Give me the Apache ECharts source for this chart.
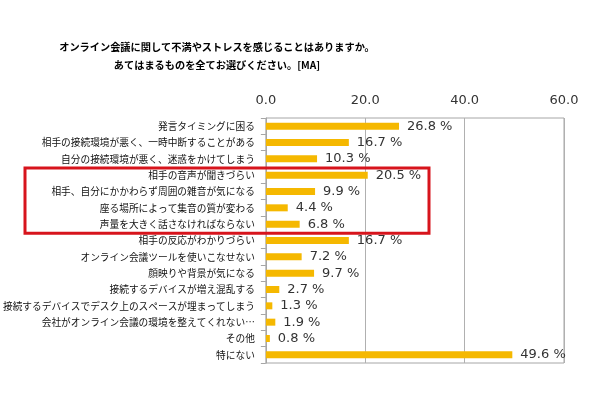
<!DOCTYPE html>
<html>
<head>
<meta charset="utf-8">
<script src="https://cdn.jsdelivr.net/npm/echarts@6/dist/echarts.min.js"></script>
<style>
html,body{margin:0;padding:0;background:#fff;}
#c{width:600px;height:400px;}
</style>
</head>
<body>
<div id="c"></div>
<script>
const titleLines = ['オンライン会議に関して不満やストレスを感じることはありますか。', 'あてはまるものを全てお選びください。[MA]'];
const categories = [
  '発言タイミングに困る',
  '相手の接続環境が悪く、一時中断することがある',
  '自分の接続環境が悪く、迷惑をかけてしまう',
  '相手の音声が聞きづらい',
  '相手、自分にかかわらず周囲の雑音が気になる',
  '座る場所によって集音の質が変わる',
  '声量を大きく話さなければならない',
  '相手の反応がわかりづらい',
  'オンライン会議ツールを使いこなせない',
  '顔映りや背景が気になる',
  '接続するデバイスが増え混乱する',
  '接続するデバイスでデスク上のスペースが埋まってしまう',
  '会社がオンライン会議の環境を整えてくれない…',
  'その他',
  '特にない'
];
const values = [26.8, 16.7, 10.3, 20.5, 9.9, 4.4, 6.8, 16.7, 7.2, 9.7, 2.7, 1.3, 1.9, 0.8, 49.6];
const xTicks = [0, 20, 40, 60];
const highlightFrom = 3, highlightTo = 6;

const chart = echarts.init(document.getElementById('c'), null, {renderer: 'canvas'});
const option = {
  animation: false,
  backgroundColor: '#ffffff',
  title: {
    text: titleLines.join('\n'),
    left: 212,
    top: 33,
    textAlign: 'center',
    textStyle: {fontFamily: 'Noto Sans CJK JP', fontSize: 10.2, fontWeight: 'bold', color: '#000', lineHeight: 18}
  },
  grid: {left: 264, right: 36, top: 118, bottom: 37, show: true, borderColor: '#a6a6a6', borderWidth: 1},
  xAxis: {
    type: 'value', position: 'top', min: xTicks[0], max: xTicks[xTicks.length - 1], interval: 20,
    axisLine: {show: false}, axisTick: {show: false},
    splitLine: {show: true, lineStyle: {color: '#b0b0b0', width: 1}},
    axisLabel: {margin: 11, fontFamily: 'DejaVu Sans', fontSize: 13, color: '#333', formatter: v => v.toFixed(1)}
  },
  yAxis: {
    type: 'category', inverse: true, data: categories,
    axisLine: {show: true, lineStyle: {color: '#a6a6a6'}},
    axisTick: {show: true, length: 5, lineStyle: {color: '#a6a6a6'}},
    axisLabel: {margin: 11, fontFamily: 'Noto Sans CJK JP', fontSize: 9.7, color: '#111'}
  },
  series: [{
    type: 'bar', data: values, barWidth: 7,
    itemStyle: {color: '#F5B800'},
    label: {show: true, position: 'right', distance: 8, fontFamily: 'DejaVu Sans', fontSize: 13, color: '#333',
      formatter: p => p.value.toFixed(1) + ' %'}
  }]
};
chart.setOption(option);

const yFirst = chart.convertToPixel({yAxisIndex: 0}, highlightFrom);
const yLast = chart.convertToPixel({yAxisIndex: 0}, highlightTo);
const band = (yLast - yFirst) / (highlightTo - highlightFrom);
const rectTop = yFirst - band / 2 + 1;
const rectBottom = yLast + band / 2 + 1;
chart.setOption({
  graphic: [{
    type: 'rect', z: 100,
    shape: {x: 25, y: rectTop, width: 404, height: rectBottom - rectTop},
    style: {fill: 'none', stroke: '#D7141C', lineWidth: 3}
  }]
});
</script>
</body>
</html>
